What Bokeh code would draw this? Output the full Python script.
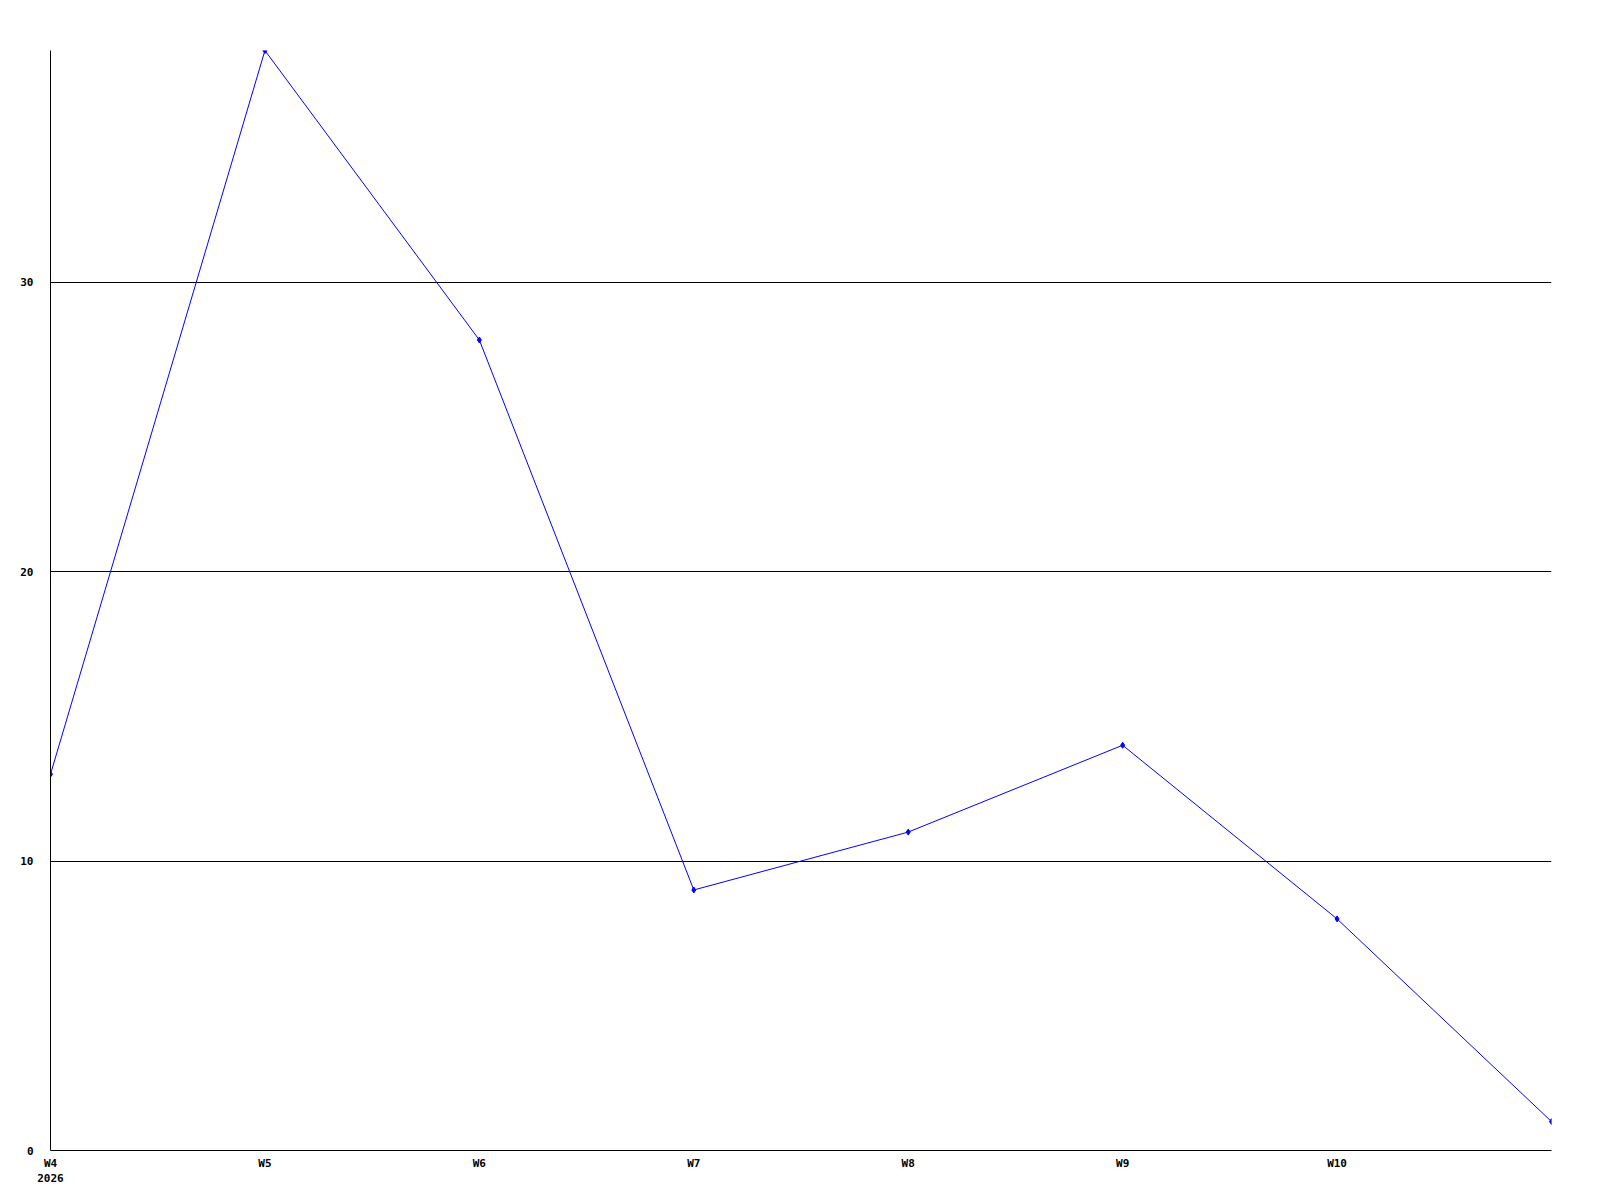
from bokeh.plotting import figure
from bokeh.models import Range1d, FixedTicker
from bokeh.embed import file_html
from bokeh.resources import INLINE

weeks = [4, 5, 6, 7, 8, 9, 10, 11]
week_labels = ["W4\n2026", "W5", "W6", "W7", "W8", "W9", "W10"]
values = [13, 38, 28, 9, 11, 14, 8, 1]
y_ticks = [0, 10, 20, 30]

p = figure(width=1584, height=1192, output_backend="svg", toolbar_location=None,
           x_range=Range1d(4, 11), y_range=Range1d(0, 38),
           min_border_left=50, min_border_right=33, min_border_top=50, min_border_bottom=42)
p.outline_line_color = None
p.background_fill_color = "white"
p.border_fill_color = "white"

p.line(weeks, values, line_color="#0000ff", line_width=1)
p.scatter(weeks, values, marker="diamond", size=6, fill_color="#0000ff", line_color="#0000ff")

p.xaxis.ticker = FixedTicker(ticks=weeks[:-1])
p.xaxis.major_label_overrides = {w: l for w, l in zip(weeks[:-1], week_labels)}
p.yaxis.ticker = FixedTicker(ticks=y_ticks)

for ax in (p.xaxis, p.yaxis):
    ax.axis_line_color = "black"
    ax.axis_line_width = 1
    ax.major_tick_line_color = None
    ax.minor_tick_line_color = None
    ax.major_tick_out = 0
    ax.major_tick_in = 0
    ax.minor_tick_out = 0
    ax.major_label_text_font = "DejaVu Sans Mono"
    ax.major_label_text_font_style = "bold"
    ax.major_label_text_font_size = "11px"
    ax.major_label_text_color = "black"

p.xaxis.major_label_standoff = 6
p.yaxis.major_label_standoff = 17

p.xgrid.grid_line_color = None
p.ygrid.grid_line_color = "black"
p.ygrid.grid_line_width = 1
p.ygrid.ticker = FixedTicker(ticks=[10, 20, 30])

open("out.html", "w").write(file_html(p, INLINE))
